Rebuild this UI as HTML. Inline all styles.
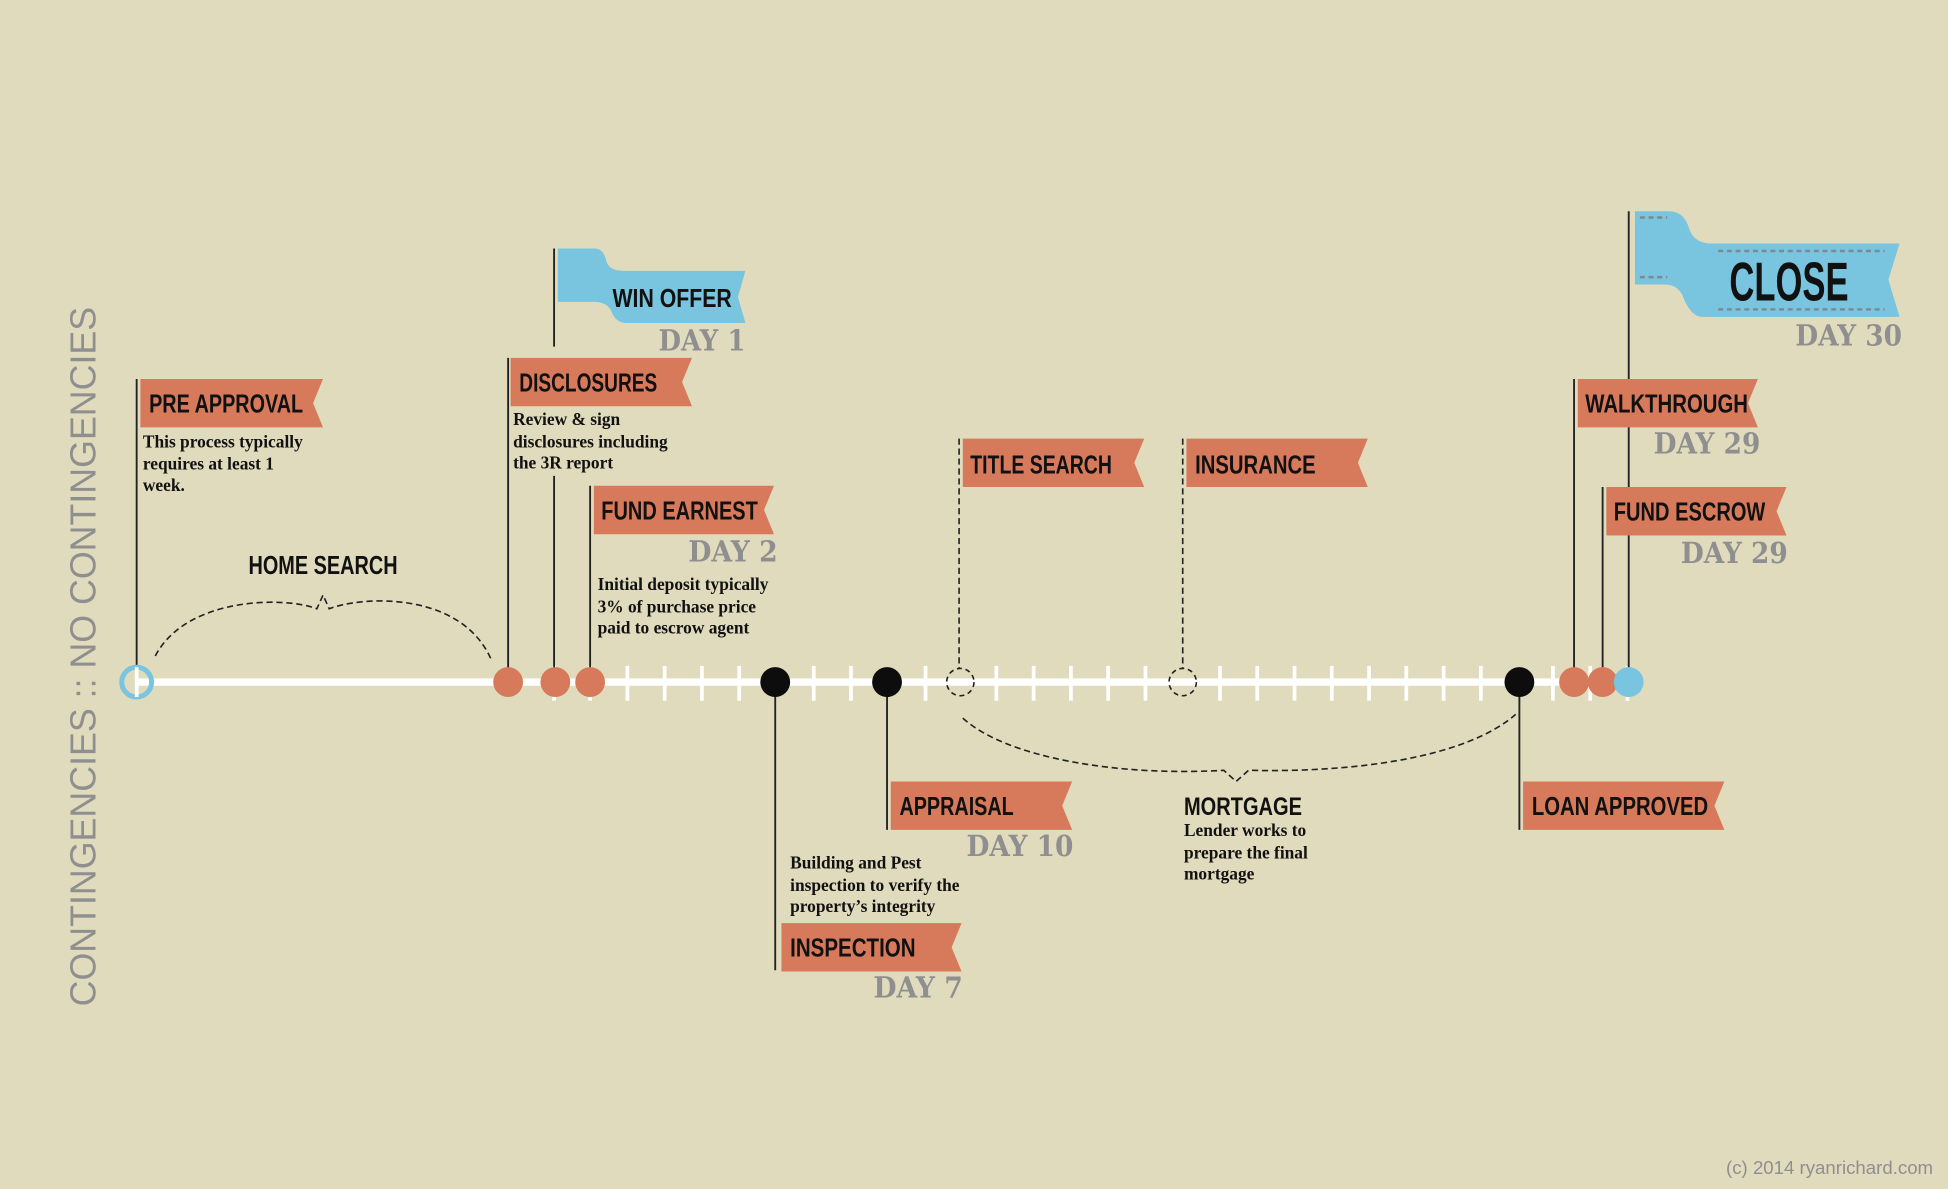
<!DOCTYPE html>
<html><head><meta charset="utf-8"><style>
html,body{margin:0;padding:0;background:#e0dbbd;}
svg{display:block;}
.f{font-family:"Liberation Sans Narrow","Liberation Sans",sans-serif;font-weight:bold;fill:#111;}
.d{font-family:"DejaVu Serif","Liberation Serif",serif;fill:#8f8f8f;font-weight:bold;}
.b{font-family:"Liberation Serif",serif;font-weight:bold;font-size:14px;fill:#111;}
</style></head><body>
<svg width="1948" height="1189" viewBox="0 0 1568 957" xmlns="http://www.w3.org/2000/svg">
<rect width="1568" height="957" fill="#e0dbbd"/>
<text transform="translate(77,810) rotate(-90)" style="font-family:'Liberation Sans',sans-serif;font-weight:normal;fill:#8f8f8f" font-size="29" textLength="563" lengthAdjust="spacingAndGlyphs">CONTINGENCIES :: NO CONTINGENCIES</text>
<text x="1556" y="945" text-anchor="end" font-family="Liberation Sans,sans-serif" font-size="15" fill="#8f8f8f">(c) 2014 ryanrichard.com</text>

<line x1="110" y1="549" x2="1310" y2="549" stroke="#fff" stroke-width="6"/>
<g stroke="#fff" stroke-width="3">
<line x1="446" y1="536" x2="446" y2="564"/><line x1="475" y1="536" x2="475" y2="564"/>
<line x1="505" y1="536" x2="505" y2="564"/><line x1="535" y1="536" x2="535" y2="564"/><line x1="565" y1="536" x2="565" y2="564"/><line x1="595" y1="536" x2="595" y2="564"/>
<line x1="655" y1="536" x2="655" y2="564"/><line x1="685" y1="536" x2="685" y2="564"/><line x1="745" y1="536" x2="745" y2="564"/>
<line x1="802" y1="536" x2="802" y2="564"/><line x1="832" y1="536" x2="832" y2="564"/><line x1="862" y1="536" x2="862" y2="564"/><line x1="892" y1="536" x2="892" y2="564"/><line x1="922" y1="536" x2="922" y2="564"/>
<line x1="982" y1="536" x2="982" y2="564"/><line x1="1012" y1="536" x2="1012" y2="564"/><line x1="1042" y1="536" x2="1042" y2="564"/><line x1="1072" y1="536" x2="1072" y2="564"/><line x1="1102" y1="536" x2="1102" y2="564"/><line x1="1132" y1="536" x2="1132" y2="564"/><line x1="1162" y1="536" x2="1162" y2="564"/><line x1="1192" y1="536" x2="1192" y2="564"/>
<line x1="1250" y1="536" x2="1250" y2="564"/><line x1="1280" y1="536" x2="1280" y2="564"/><line x1="1310" y1="536" x2="1310" y2="564"/>
</g>

<g stroke="#222" stroke-width="1.5">
<line x1="110" y1="305" x2="110" y2="549"/>
<line x1="409" y1="288" x2="409" y2="549"/>
<line x1="446" y1="200" x2="446" y2="279"/>
<line x1="446" y1="383" x2="446" y2="549"/>
<line x1="475" y1="391" x2="475" y2="549"/>
<line x1="624" y1="549" x2="624" y2="781"/>
<line x1="714" y1="549" x2="714" y2="668"/>
<line x1="1223" y1="549" x2="1223" y2="668"/>
<line x1="1267" y1="305" x2="1267" y2="549"/>
<line x1="1290" y1="392" x2="1290" y2="549"/>
<line x1="1311" y1="170" x2="1311" y2="549"/>
</g>
<g stroke="#222" stroke-width="1.3" stroke-dasharray="5,3" fill="none">
<line x1="772" y1="353" x2="772" y2="538"/>
<line x1="952" y1="353" x2="952" y2="538"/>
<path d="M125,528 C150,480 230,480 255,490 L260,479 L265,490 C290,480 370,475 395,530"/>
<path d="M775,578 C810,610 900,625 985,620 L995,629 L1005,620 C1090,622 1180,610 1220,575"/>
</g>

<circle cx="110" cy="549" r="12" fill="none" stroke="#79c4de" stroke-width="4"/>
<line x1="110" y1="537" x2="110" y2="561" stroke="#fff" stroke-width="3"/>
<g fill="#d77a5b">
<circle cx="409" cy="549" r="12"/><circle cx="447" cy="549" r="12"/><circle cx="475" cy="549" r="12"/>
<circle cx="1267" cy="549" r="12"/><circle cx="1290" cy="549" r="12"/>
</g>
<circle cx="1311" cy="549" r="12" fill="#79c4de"/>
<g fill="#0d0d0d"><circle cx="624" cy="549" r="12"/><circle cx="714" cy="549" r="12"/><circle cx="1223" cy="549" r="12"/></g>
<g fill="none" stroke="#222" stroke-width="1.3" stroke-dasharray="4,3">
<circle cx="773" cy="549" r="11"/><circle cx="952" cy="549" r="11"/>
</g>

<g fill="#d77a5b">
<path d="M113,305 H260 L252,324.5 L260,344 H113 Z"/>
<path d="M411,288 H557 L549,307.5 L557,327 H411 Z"/>
<path d="M478,391 H623 L615,410.5 L623,430 H478 Z"/>
<path d="M775,353 H921 L913,372.5 L921,392 H775 Z"/>
<path d="M955,353 H1101 L1093,372.5 L1101,392 H955 Z"/>
<path d="M717,629 H863 L855,648.5 L863,668 H717 Z"/>
<path d="M629,743 H774 L766,762.5 L774,782 H629 Z"/>
<path d="M1226,629 H1388 L1380,648.5 L1388,668 H1226 Z"/>
<path d="M1270,305 H1415 L1407,324.5 L1415,344 H1270 Z"/>
<path d="M1293,392 H1438 L1430,411.5 L1438,431 H1293 Z"/>
</g>
<g class="f" font-size="21">
<text x="120" y="332" textLength="124" lengthAdjust="spacingAndGlyphs">PRE APPROVAL</text>
<text x="418" y="315" textLength="111" lengthAdjust="spacingAndGlyphs">DISCLOSURES</text>
<text x="484" y="418" textLength="126" lengthAdjust="spacingAndGlyphs">FUND EARNEST</text>
<text x="781" y="381" textLength="114" lengthAdjust="spacingAndGlyphs">TITLE SEARCH</text>
<text x="962" y="381" textLength="97" lengthAdjust="spacingAndGlyphs">INSURANCE</text>
<text x="724" y="656" textLength="92" lengthAdjust="spacingAndGlyphs">APPRAISAL</text>
<text x="636" y="770" textLength="101" lengthAdjust="spacingAndGlyphs">INSPECTION</text>
<text x="1233" y="656" textLength="142" lengthAdjust="spacingAndGlyphs">LOAN APPROVED</text>
<text x="1276" y="332" textLength="131" lengthAdjust="spacingAndGlyphs">WALKTHROUGH</text>
<text x="1299" y="419" textLength="122" lengthAdjust="spacingAndGlyphs">FUND ESCROW</text>
<text x="200" y="462" textLength="120" lengthAdjust="spacingAndGlyphs">HOME SEARCH</text>
<text x="953" y="656" font-size="20" textLength="95" lengthAdjust="spacingAndGlyphs">MORTGAGE</text>
</g>

<path fill="#79c4de" d="M449,200 L478,200 Q486,200 488,210 Q490,218 502,218 L600,218 L594,239 L600,260 L505,260 Q495,260 492,250 Q488,243 478,243 L449,243 Z"/>
<text class="f" x="493" y="247" font-size="21" textLength="96" lengthAdjust="spacingAndGlyphs">WIN OFFER</text>
<path fill="#79c4de" d="M1316,170 L1343,170 Q1356,170 1360,185 Q1364,196 1378,196 L1529,196 L1520,225 L1529,255 L1370,255 Q1362,255 1356,242 Q1352,229 1340,229 L1316,229 Z"/>
<g stroke="#7f8a90" stroke-width="2" stroke-dasharray="4,3">
<line x1="1320" y1="175" x2="1342" y2="175"/><line x1="1320" y1="223" x2="1342" y2="223"/>
<line x1="1383" y1="202" x2="1517" y2="202"/><line x1="1383" y1="249" x2="1517" y2="249"/>
</g>
<text class="f" x="1392" y="242" font-size="44" textLength="96" lengthAdjust="spacingAndGlyphs">CLOSE</text>

<g class="d" font-size="23" text-anchor="end">
<text x="600" y="282" textLength="70" lengthAdjust="spacingAndGlyphs">DAY 1</text>
<text x="626" y="452" textLength="72" lengthAdjust="spacingAndGlyphs">DAY 2</text>
<text x="864" y="689" textLength="86" lengthAdjust="spacingAndGlyphs">DAY 10</text>
<text x="775" y="803" textLength="72" lengthAdjust="spacingAndGlyphs">DAY 7</text>
<text x="1417" y="365" textLength="86" lengthAdjust="spacingAndGlyphs">DAY 29</text>
<text x="1439" y="453" textLength="86" lengthAdjust="spacingAndGlyphs">DAY 29</text>
<text x="1531" y="278" textLength="86" lengthAdjust="spacingAndGlyphs">DAY 30</text>
</g>

<text class="b"><tspan x="115" y="360">This process typically</tspan><tspan x="115" y="378">requires at least 1</tspan><tspan x="115" y="395">week.</tspan></text>
<text class="b"><tspan x="413" y="342">Review &amp; sign</tspan><tspan x="413" y="360">disclosures including</tspan><tspan x="413" y="377">the 3R report</tspan></text>
<text class="b"><tspan x="481" y="475">Initial deposit typically</tspan><tspan x="481" y="493">3% of purchase price</tspan><tspan x="481" y="510">paid to escrow agent</tspan></text>
<text class="b"><tspan x="636" y="699">Building and Pest</tspan><tspan x="636" y="717">inspection to verify the</tspan><tspan x="636" y="734">property’s integrity</tspan></text>
<text class="b"><tspan x="953" y="673">Lender works to</tspan><tspan x="953" y="691">prepare the final</tspan><tspan x="953" y="708">mortgage</tspan></text>
</svg>
</body></html>
